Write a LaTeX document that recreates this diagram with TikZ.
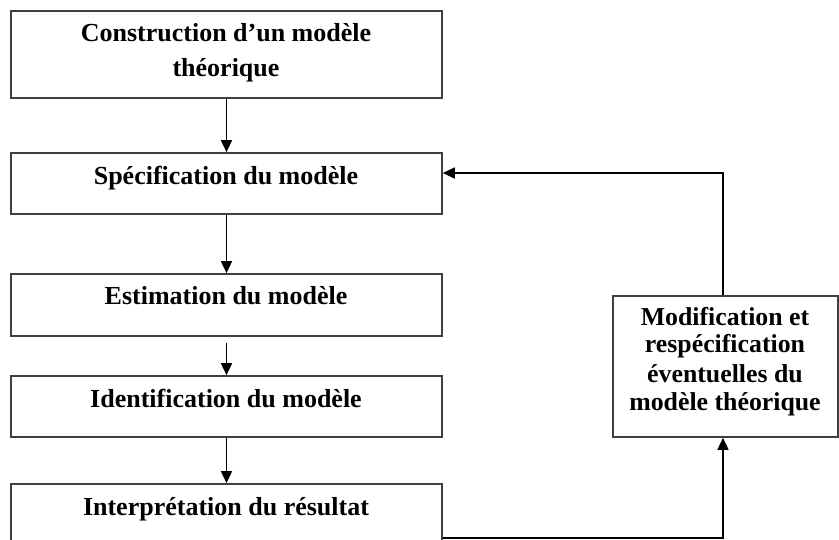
\documentclass[tikz,border=0pt]{standalone}
\usepackage{fontspec}
\setmainfont{Liberation Serif}
\usetikzlibrary{arrows.meta,calc}
\begin{document}
\begin{tikzpicture}[x=1pt,y=-1pt,
  box/.style={draw=black!75,line width=1.7pt,inner sep=0pt,fill=white},
  txt/.style={font=\bfseries\fontsize{26}{35}\selectfont,align=center,inner sep=0pt,anchor=base},
  txtm/.style={font=\bfseries\fontsize{25.8}{28}\selectfont,align=center,inner sep=0pt,anchor=base},
  arr/.style={draw=black,line width=1.7pt,-{Triangle[length=12pt,width=11pt]}}]
\useasboundingbox[fill=white] (0,0) rectangle (839,540);
\node[box,minimum width=431pt,minimum height=87pt] (b1) at (226.5,54.5) {};
\node[box,minimum width=431pt,minimum height=61pt] (b2) at (226.5,183.5) {};
\node[box,minimum width=431pt,minimum height=62pt] (b3) at (226.5,305) {};
\node[box,minimum width=431pt,minimum height=61pt] (b4) at (226.5,406.5) {};
\node[box,minimum width=431pt,minimum height=108pt] (b5) at (226.5,538) {};
\node[box,minimum width=225pt,minimum height=141pt] (bm) at (725.5,366.5) {};
\node[txt] (t1) at (226,42) {Construction d'un modèle};
\node[txt] (t1b) at (226,77) {théorique};
\node[txt] (t2) at (226,185) {Spécification du modèle};
\node[txt] (t3) at (226,305) {Estimation du modèle};
\node[txt] (t4) at (226,407) {Identification du modèle};
\node[txt] (t5) at (226,515) {Interprétation du résultat};
\node[txtm] (m1) at (725,326) {Modification et};
\node[txtm] (m2) at (725,353) {respécification};
\node[txtm] (m3) at (725,382) {éventuelles du};
\node[txtm] (m4) at (725,410) {modèle théorique};
\draw[arr] (b1.south) -- (b2.north);
\draw[arr] (b2.south) -- (b3.north);
\draw[arr,shorten <=6pt] (b3.south) -- (b4.north);
\draw[arr] (b4.south) -- (b5.north);
\draw[arr] ([xshift=-2.5pt]bm.north) |- ([yshift=10.5pt]b2.east);
\draw[arr] (b5.east) -| ([xshift=-2.5pt]bm.south);
\end{tikzpicture}
\end{document}
